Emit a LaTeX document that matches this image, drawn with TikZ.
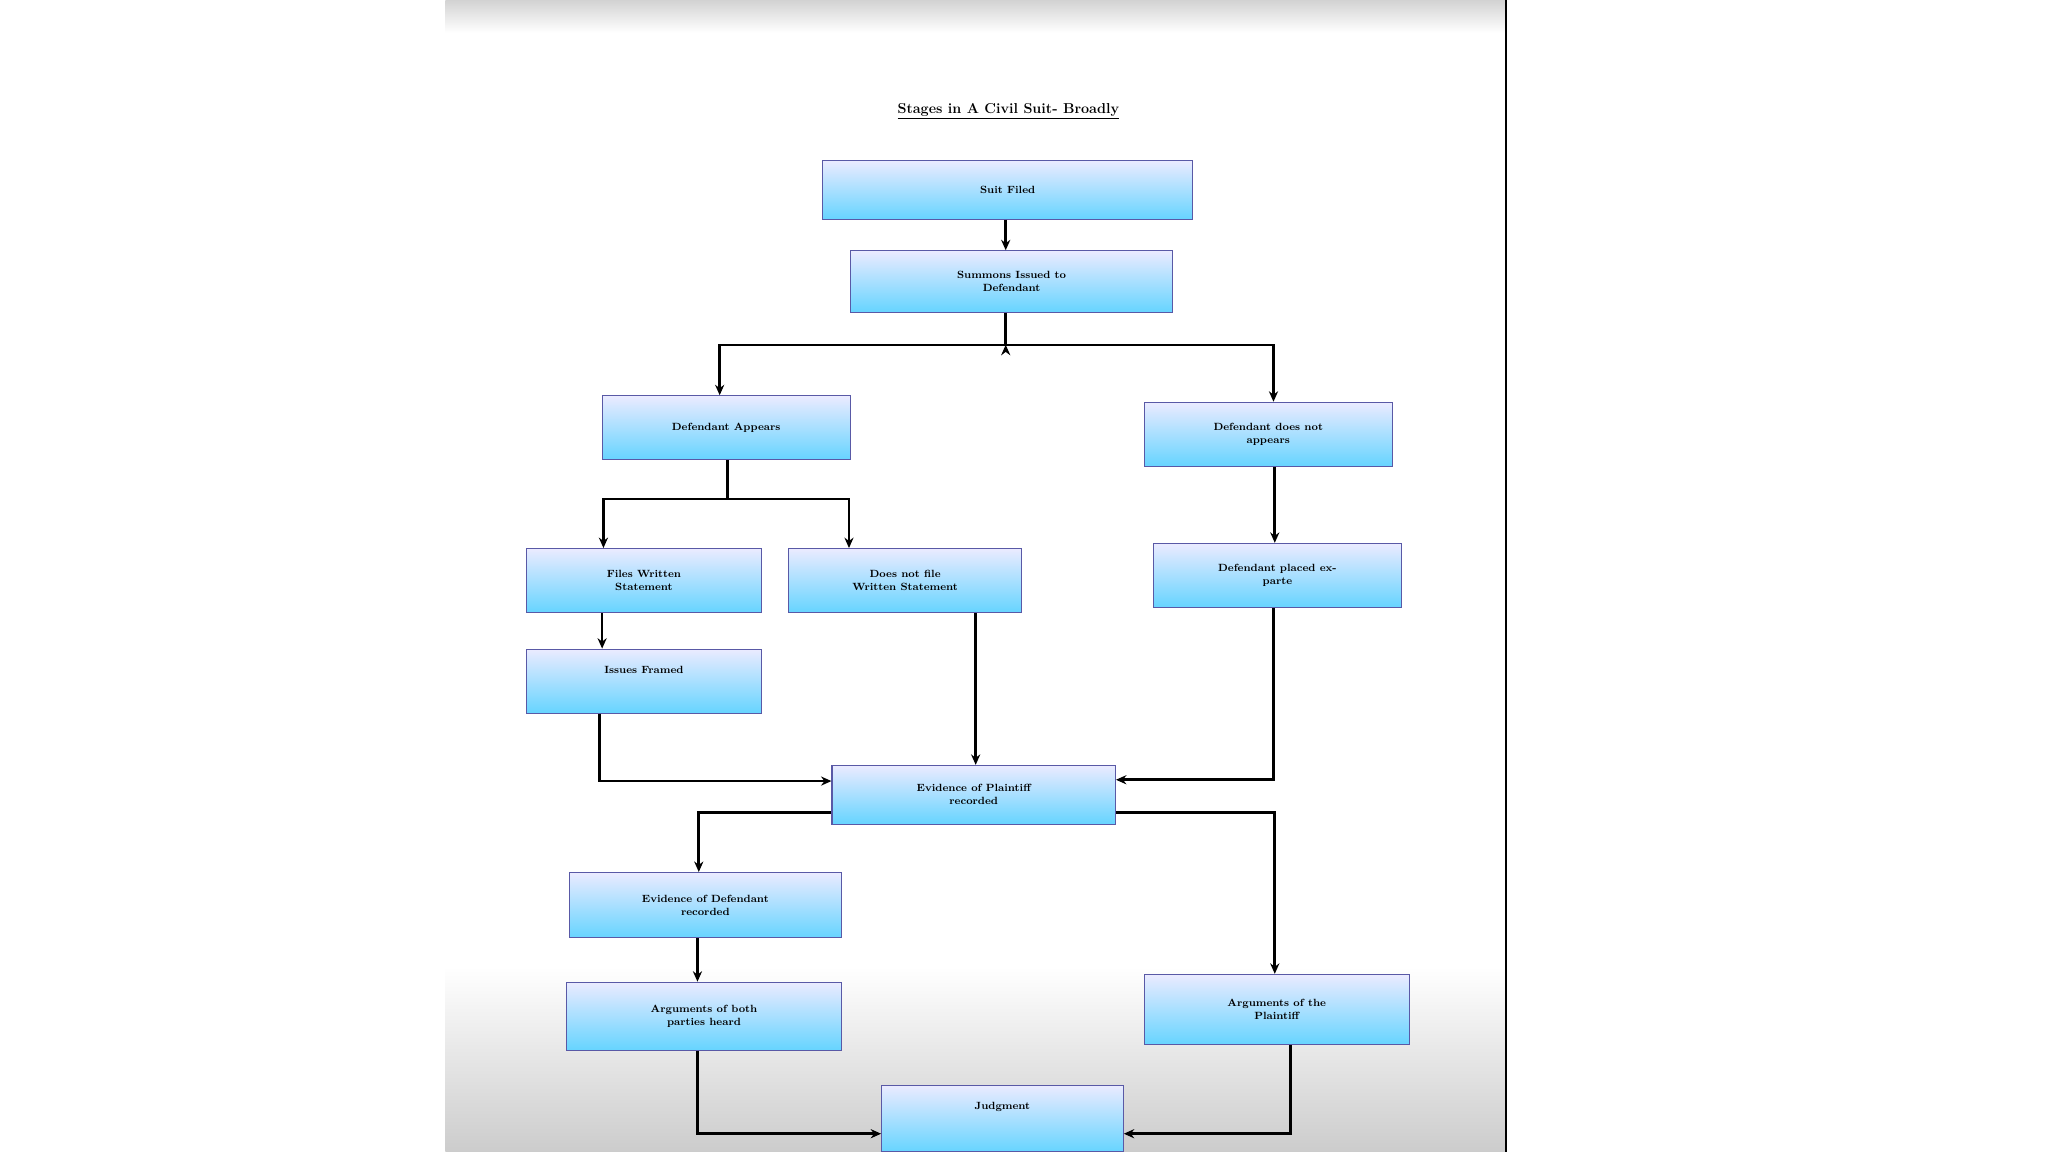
\documentclass[tikz,border=0pt]{standalone}
\usetikzlibrary{arrows.meta}
\begin{document}
\begin{tikzpicture}[x=1pt,y=-1pt,
 box/.style={draw=blue!30!gray, line width=0.8pt, top color=blue!8, bottom color=blue!28!cyan!60!white, align=center, font=\bfseries\scshape\fontsize{8}{10}\selectfont, inner sep=0pt},
 ar/.style={line width=2pt, -{Stealth[length=8pt,width=7pt]}},
 ln/.style={line width=2pt}]
\useasboundingbox (0,0) rectangle (1568,882);
\fill[white] (0,0) rectangle (1568,882);
\shade[top color=gray!35, bottom color=white] (341,0) rectangle (1153,25);
\shade[top color=white, bottom color=gray!40] (341,740) rectangle (1153,882);
\draw[line width=1.2pt] (1153,0) -- (1153,882);
\node[font=\bfseries\scshape\fontsize{11}{13}\selectfont] (title) at (772,85) {\underline{Stages in A Civil Suit- Broadly}};
\newcommand{\mybox}[6]{\node[box, minimum width={#4-#2}, minimum height={#5-#3}] (#1) at ({(#2+#4)/2},{(#3+#5)/2}) {#6};}
\mybox{suit}{630}{123}{913}{168}{Suit Filed}
\mybox{summ}{651}{192}{898}{239}{Summons Issued to\\Defendant}
\mybox{app}{461}{303}{651}{352}{Defendant Appears}
\mybox{napp}{876}{308}{1066}{357}{Defendant does not\\appears}
\mybox{fws}{403}{420}{583}{469}{Files Written\\Statement}
\mybox{nfws}{604}{420}{782}{469}{Does not file\\Written Statement}
\mybox{exp}{883}{416}{1073}{465}{Defendant placed ex-\\parte}
\mybox{iss}{403}{497}{583}{546}{Issues Framed\\[8pt]}
\mybox{evp}{637}{586}{854}{631}{Evidence of Plaintiff\\recorded}
\mybox{evd}{436}{668}{644}{718}{Evidence of Defendant\\recorded}
\mybox{argb}{434}{752}{644}{804}{Arguments of both\\parties heard}
\mybox{argp}{876}{746}{1079}{800}{Arguments of the\\Plaintiff}
\mybox{judg}{675}{831}{860}{882}{Judgment\\[10pt]}
\coordinate (j1) at (770,264);
\coordinate (j2) at (557,382);
\draw[ar] (suit.south -| 770,0) -- (summ.north -| 770,0);
\draw[ln] (summ.south -| 770,0) -- (j1);
\draw[ar] (j1) -- (770,264);
\draw[ar] (j1) -| (app.north -| 551,0);
\draw[ar] (j1) -| (napp.north -| 975,0);
\draw[ln] (app.south -| 557,0) -- (j2);
\draw[ar] (j2) -| (fws.north -| 462,0);
\draw[ar] (j2) -| (nfws.north -| 650,0);
\draw[ar] (napp.south -| 976,0) -- (exp.north -| 976,0);
\draw[ar] (fws.south -| 461,0) -- (iss.north -| 461,0);
\draw[ar] (nfws.south -| 747,0) -- (evp.north -| 747,0);
\draw[ar] (iss.south -| 459,0) |- (evp.west |- 0,598);
\draw[ar] (exp.south -| 975,0) |- (evp.east |- 0,597);
\draw[ar] (evp.west |- 0,622) -| (evd.north -| 535,0);
\draw[ar] (evp.east |- 0,622) -| (argp.north -| 976,0);
\draw[ar] (evd.south -| 534,0) -- (argb.north -| 534,0);
\draw[ar] (argb.south -| 534,0) |- (judg.west |- 0,868);
\draw[ar] (argp.south -| 988,0) |- (judg.east |- 0,868);
\end{tikzpicture}
\end{document}
